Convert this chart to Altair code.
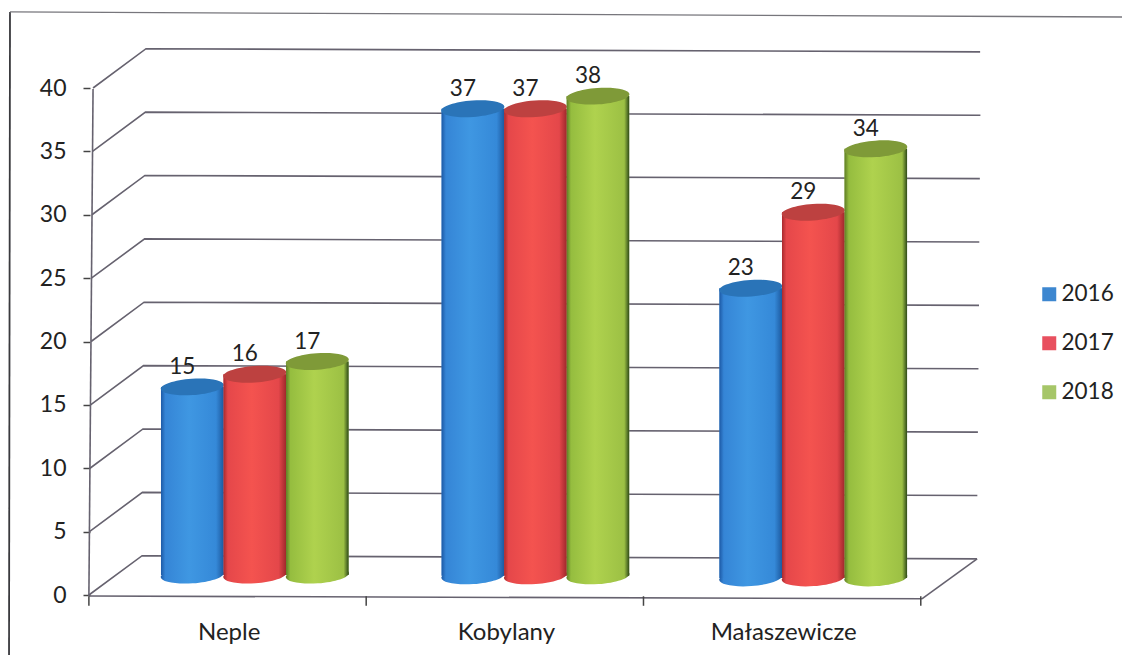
import json
import altair as alt
import pandas as pd

categories = ["Neple", "Kobylany", "Małaszewicze"]
series = ["2016", "2017", "2018"]
values_2016 = [15, 37, 23]
values_2017 = [16, 37, 29]
values_2018 = [17, 38, 34]
all_values = [values_2016, values_2017, values_2018]

legend_colors = ["#3d87d0", "#e8505f", "#a6c668"]
top_colors = ["#2a74b8", "#bd4140", "#7f9a38"]
stops = [
    [("#1d5aa6", 0), ("#3585d6", 0.07), ("#3f97e2", 0.45), ("#3589d8", 0.88), ("#1d5aa0", 1)],
    [("#a82a2e", 0), ("#e5474a", 0.07), ("#f4534f", 0.45), ("#e4474a", 0.88), ("#a0282c", 1)],
    [("#5f7d25", 0), ("#95bd3f", 0.07), ("#afd24e", 0.45), ("#9cc044", 0.92), ("#2f4a18", 1)],
]

group_left = [0.256, 1.268, 2.27]
group_base = [1.42, 1.36, 1.2]
bottom_lift = 0.15
bar_width = 0.2255

wall_values = [0, 5, 10, 15, 20, 25, 30, 35, 40]
front_u = [-0.004, -0.002, 0, 0.002, 0.004, 0.005, 0.007, 0.009, 0.011]
back_left_u = [0.188, 0.189, 0.191, 0.193, 0.195, 0.197, 0.198, 0.2, 0.202]
back_right_u = [3.199, 3.2, 3.202, 3.204, 3.206, 3.207, 3.209, 3.211, 3.21]
back_left_lift = 3.1
back_right_lift = 2.85

x_scale = alt.Scale(domain=[0, 3.2456], range=[0, 900], nice=False, zero=False)
y_scale = alt.Scale(domain=[-1.972, 43.787], range=[580, 0], nice=False, zero=False)
FONT = "Lato"
LINE = "#66626f"

rows = []
for s, vals in enumerate(all_values):
    for g, v in enumerate(vals):
        left = group_left[g] + s * bar_width
        rows.append(dict(series=series[s], s=s, value=v, left=left, right=left + bar_width,
                         mid=left + bar_width / 2, base=group_base[g] + bottom_lift,
                         top=v + group_base[g]))
bars = pd.DataFrame(rows)

grid_rows = []
for i, w in enumerate(wall_values):
    grid_rows += [
        dict(k=w, o=0, u=front_u[i], v=w),
        dict(k=w, o=1, u=back_left_u[i], v=w + back_left_lift),
        dict(k=w, o=2, u=back_right_u[i], v=w + back_right_lift),
    ]
grid = pd.DataFrame(grid_rows)

X = lambda f: alt.X(f, type="quantitative", scale=x_scale, title=None)
Y = lambda f: alt.Y(f, type="quantitative", scale=y_scale, title=None)

def path_layer(points, color=LINE, width=1.6):
    df = pd.DataFrame(points, columns=["u", "v"]).assign(o=range(len(points)))
    return alt.Chart(df).mark_line(color=color, strokeWidth=width, clip=False).encode(
        x=X("u"), y=Y("v"), order="o:Q")

axes_layer = alt.Chart(grid).mark_line(color=LINE, strokeWidth=1.6).encode(
    x=alt.X("u:Q", scale=x_scale, title=None, axis=alt.Axis(
        values=[0.5, 1.5, 2.5], ticks=False, domain=False, grid=False, labelFont=FONT,
        labelFontSize=24, labelColor="#222222", labelPadding=0, labelAngle=0,
        labelExpr=f"{json.dumps(categories, ensure_ascii=False)}[round(datum.value-0.5)]")),
    y=alt.Y("v:Q", scale=y_scale, title=None, axis=alt.Axis(
        values=wall_values, domain=False, grid=False, tickColor="#444444", tickSize=7,
        tickWidth=1.5, labelFont=FONT, labelFontSize=23, labelColor="#222222", labelPadding=17)),
    detail="k:N", order="o:Q")

layers = [
    axes_layer,
    path_layer([(-0.2885, 46.0), (-0.292, -4.73)], "#3a3a3e", 1.8),
    path_layer([(-0.2885, 46.0), (3.75, 45.6)], "#77767c", 1.3),
    path_layer([(-0.004, -0.08), (0.011, 39.92)]),
    path_layer([(-0.004, -0.08), (3.0, -0.3)]),
    path_layer([(3.0, -0.3), (back_right_u[0], back_right_lift)]),
]
for tick in [0, 1, 2, 3]:
    layers.append(path_layer([(tick - 0.004, -0.1), (tick - 0.004, -0.85)], "#444444", 1.5))

legend_layer = alt.Chart(bars).mark_bar().encode(
    x=X("left"), x2="right", y=Y("base"), y2="top",
    color=alt.Color("series:N", scale=alt.Scale(domain=series, range=legend_colors), legend=alt.Legend(
        title=None, orient="none", legendX=948, legendY=243, symbolType="square", symbolSize=196,
        symbolStrokeWidth=0, labelFont=FONT, labelFontSize=22.5, labelColor="#222222",
        rowPadding=26, labelOffset=1)))
layers.append(legend_layer)

ellipse = "M-1,0.07A1,0.26,-4,1,1,1,-0.07A1,0.26,-4,1,1,-1,0.07Z"
for s, name in enumerate(series):
    d = bars[bars.series == name]
    grad = alt.Gradient(gradient="linear", x1=0, x2=1, y1=0, y2=0,
                        stops=[alt.GradientStop(color=c, offset=o) for c, o in stops[s]])
    base = alt.Chart(d)
    layers.append(base.mark_point(filled=True, shape=ellipse, size=3970, fill=grad, opacity=1, strokeWidth=0)
                  .encode(x=X("mid"), y=Y("base")))
    layers.append(base.mark_bar(color=grad).encode(x=X("left"), x2="right", y=Y("base"), y2="top"))
    layers.append(base.mark_point(filled=True, shape=ellipse, size=3970, fill=top_colors[s], opacity=1, strokeWidth=0)
                  .encode(x=X("mid"), y=Y("top")))
    layers.append(base.mark_text(font=FONT, fontSize=22.5, color="#222222", dx=-10, dy=-20)
                  .encode(x=X("mid"), y=Y("top"), text="value:Q"))

chart = alt.layer(*layers).properties(
    width=900, height=580,
    padding={"left": 82, "top": 32, "right": 132, "bottom": 35},
    autosize=alt.AutoSizeParams(type="none"),
    background="#ffffff",
).configure_view(stroke=None)

chart.save("out.html", embed_options={"renderer": "svg", "actions": False})
